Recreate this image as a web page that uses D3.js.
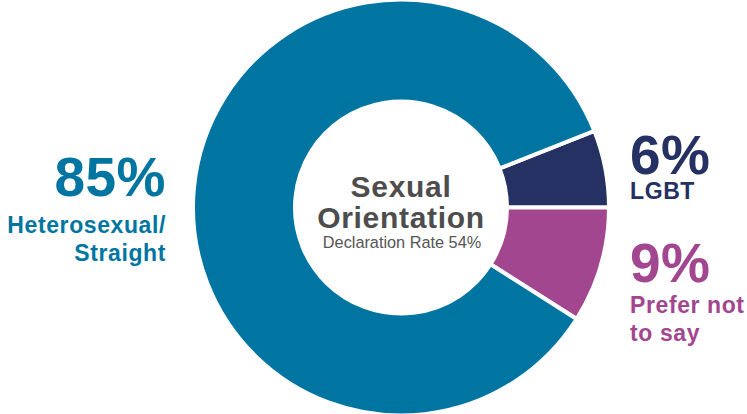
<!DOCTYPE html>
<html>
<head>
<meta charset="utf-8">
<script src="https://cdn.jsdelivr.net/npm/d3@7"></script>
<style>
  html, body { margin: 0; padding: 0; background: #fff; }
  svg { display: block; font-family: "Liberation Sans", Arial, Helvetica, sans-serif; }
</style>
</head>
<body>
<svg id="chart" width="747" height="414"></svg>
<script>
// Sexual orientation breakdown (percent of declared responses)
const categories = ["LGBT", "Prefer not to say", "Heterosexual/Straight"];
const values = [6, 9, 85];
const labelLines = [["LGBT"], ["Prefer not", "to say"], ["Heterosexual/", "Straight"]];
const colors = ["#253063", "#A2468F", "#0075A2"];
const centerTitle = ["Sexual", "Orientation"];
const centerSubtitle = "Declaration Rate 54%";

const svg = d3.select("#chart");
const cx = 401, cy = 207.5;
const g = svg.append("g").attr("transform", `translate(${cx},${cy})`);

const total = d3.sum(values);
// LGBT slice ends at 3 o'clock, slices continue clockwise
const start = Math.PI / 2 - (values[0] / total) * 2 * Math.PI;
const pie = d3.pie().sort(null).value(d => d)
  .startAngle(start).endAngle(start + 2 * Math.PI);
const arc = d3.arc().innerRadius(106).outerRadius(208);

g.selectAll("path.slice")
  .data(pie(values))
  .join("path")
  .attr("class", "slice")
  .attr("d", arc)
  .attr("fill", (d, i) => colors[i])
  .attr("stroke", "#fff")
  .attr("stroke-width", 4)
  .attr("stroke-linejoin", "miter");

// Centre title
const center = g.append("g").attr("fill", "#4d4d4d").attr("text-anchor", "middle");
center.selectAll("text.title")
  .data(centerTitle)
  .join("text")
  .attr("class", "title")
  .attr("x", 0)
  .attr("y", (d, i) => -10.5 + i * 30.5)
  .attr("font-size", 30)
  .attr("font-weight", "bold")
  .attr("letter-spacing", 0.7)
  .text(d => d);
center.append("text")
  .attr("x", 1)
  .attr("y", 40.5)
  .attr("font-size", 16.3)
  .attr("fill", "#555")
  .text(centerSubtitle);

// Outside value labels
const fmt = v => `${v}%`;
const labelPos = [
  { x: 630, y: 174, anchor: "start", gap: 25 },
  { x: 630, y: 282, anchor: "start", gap: 31 },
  { x: 166, y: 196, anchor: "end", gap: 37 }
];

values.forEach((v, i) => {
  const p = labelPos[i];
  const lg = svg.append("g").attr("fill", colors[i]).attr("text-anchor", p.anchor);
  lg.append("text")
    .attr("x", p.x)
    .attr("y", p.y)
    .attr("font-size", 55)
    .attr("font-weight", "bold")
    .attr("letter-spacing", 0.5)
    .text(fmt(v));
  lg.selectAll("text.name")
    .data(labelLines[i])
    .join("text")
    .attr("class", "name")
    .attr("x", p.x)
    .attr("y", (d, j) => p.y + p.gap + j * 28)
    .attr("font-size", 23)
    .attr("font-weight", "bold")
    .attr("letter-spacing", 0.6)
    .text(d => d);
});
</script>
</body>
</html>
